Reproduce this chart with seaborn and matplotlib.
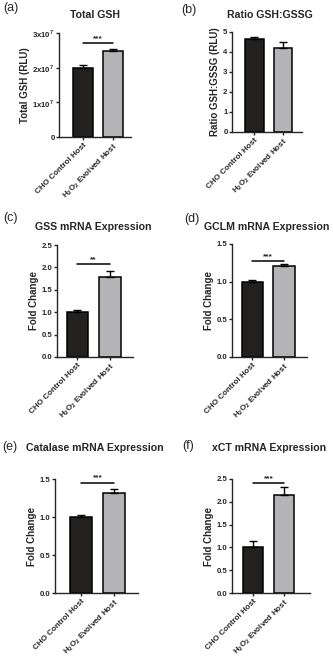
import matplotlib
matplotlib.use('Agg')
import matplotlib.pyplot as plt
import seaborn as sns
import pandas as pd

# Data
groups = ['CHO Control Host', 'H$_2$O$_2$ Evolved Host']
barColors = ['#231f20', '#b4b4b6']

totalGsh = [2.0e7, 2.48e7]
totalGshErr = [0.09e7, 0.05e7]
ratioGsh = [4.65, 4.22]
ratioGshErr = [0.09, 0.30]
gssFold = [1.0, 1.78]
gssErr = [0.05, 0.15]
gclmFold = [1.0, 1.21]
gclmErr = [0.02, 0.025]
catalaseFold = [1.0, 1.32]
catalaseErr = [0.03, 0.045]
xctFold = [1.0, 2.15]
xctErr = [0.15, 0.18]

sigLabels = ['***', '', '**', '***', '***', '***']
sigHeights = [2.71e7, None, 2.07, 1.27, 1.45, 2.41]

sns.set_style('ticks')
plt.rcParams['font.family'] = ['Liberation Sans', 'DejaVu Sans']
plt.rcParams['mathtext.fontset'] = 'custom'
plt.rcParams['mathtext.rm'] = 'Liberation Sans:bold'
plt.rcParams['mathtext.bf'] = 'Liberation Sans:bold'

W, H = 333, 661
fig = plt.figure(figsize=(W / 100, H / 100), dpi=100)

# panel specs: letter, title, ylabel, values, errors, (left, top, right, bottom px), xlim, ylim, yticks, yticklabels
panels = [
    ('(a)', 'Total GSH', 'Total GSH (RLU)', totalGsh, totalGshErr,
     (59, 33, 131, 137), (-0.8, 1.6), 3e7, [0, 1e7, 2e7, 3e7],
     ['0', '1x10$^{7}$', '2x10$^{7}$', '3x10$^{7}$'],
     (95, 15), (3, 8)),
    ('(b)', 'Ratio GSH:GSSG', 'Ratio GSH:GSSG (RLU)', ratioGsh, ratioGshErr,
     (232, 32, 302, 132), (-0.79, 1.67), 5, [0, 1, 2, 3, 4, 5],
     ['0', '1', '2', '3', '4', '5'],
     (270, 15), (181, 10)),
    ('(c)', 'GSS mRNA Expression', 'Fold Change', gssFold, gssErr,
     (57, 245, 133, 357), (-0.62, 1.7), 2.5, [0, 0.5, 1.0, 1.5, 2.0, 2.5],
     ['0.0', '0.5', '1.0', '1.5', '2.0', '2.5'],
     (93, 227), (3, 218)),
    ('(d)', 'GCLM mRNA Expression', 'Fold Change', gclmFold, gclmErr,
     (232, 244, 307, 357), (-0.63, 1.72), 1.5, [0, 0.5, 1.0, 1.5],
     ['0.0', '0.5', '1.0', '1.5'],
     (267, 227), (184, 219)),
    ('(e)', 'Catalase mRNA Expression', 'Fold Change', catalaseFold, catalaseErr,
     (55, 479, 138, 593), (-0.79, 1.73), 1.5, [0, 0.5, 1.0, 1.5],
     ['0.0', '0.5', '1.0', '1.5'],
     (95, 448), (2, 447)),
    ('(f)', 'xCT mRNA Expression', 'Fold Change', xctFold, xctErr,
     (232, 479, 310, 593), (-0.67, 1.83), 2.5, [0, 0.5, 1.0, 1.5, 2.0, 2.5],
     ['0.0', '0.5', '1.0', '1.5', '2.0', '2.5'],
     (269, 448), (182, 446)),
]

for i, (letter, title, ylab, vals, errs, box, xl, ymax, yt, ytl, titlePos, letterPos) in enumerate(panels):
    left, top, right, bottom = box
    ax = fig.add_axes([left / W, 1 - bottom / H, (right - left) / W, (bottom - top) / H])
    df = pd.DataFrame({'group': groups, 'value': vals})
    sns.barplot(data=df, x='group', y='value', hue='group', palette=barColors,
                width=0.66, edgecolor='black', linewidth=1.1, legend=False, ax=ax,
                errorbar=None)
    # upward-only error bars (Prism style)
    ax.errorbar([0, 1], vals, yerr=[[0, 0], errs], fmt='none', ecolor='black',
                elinewidth=1.0, capsize=3, capthick=1.0, zorder=1)
    ax.set_xlim(*xl)
    ax.set_ylim(0, ymax)
    ax.set_yticks(yt)
    ax.set_yticklabels(ytl, fontsize=5.6, fontweight='bold')
    ax.set_xticks([0, 1])
    ax.set_xticklabels(groups, rotation=45, ha='right', rotation_mode='anchor',
                       fontsize=5.8, fontweight='bold')
    ax.set_xlabel('')
    ax.set_ylabel(ylab, fontsize=7, fontweight='bold', labelpad=2)
    ax.tick_params(axis='both', length=2.2, width=1.0, pad=1)
    sns.despine(ax=ax)
    for sp in ['left', 'bottom']:
        ax.spines[sp].set_linewidth(1.0)

    if sigLabels[i]:
        ax.plot([0, 1], [sigHeights[i], sigHeights[i]], color='black', lw=1.1)
        ax.text(0.5, sigHeights[i] + ymax * 0.01, sigLabels[i], ha='center',
                va='bottom', fontsize=6, fontweight='bold')

    fig.text(titlePos[0] / W, 1 - titlePos[1] / H, title, ha='center', va='center',
             fontsize=7.6, fontweight='bold')
    fig.text(letterPos[0] / W, 1 - letterPos[1] / H, letter, ha='left', va='center',
             fontsize=9)

fig.savefig('out.png', dpi=100)
